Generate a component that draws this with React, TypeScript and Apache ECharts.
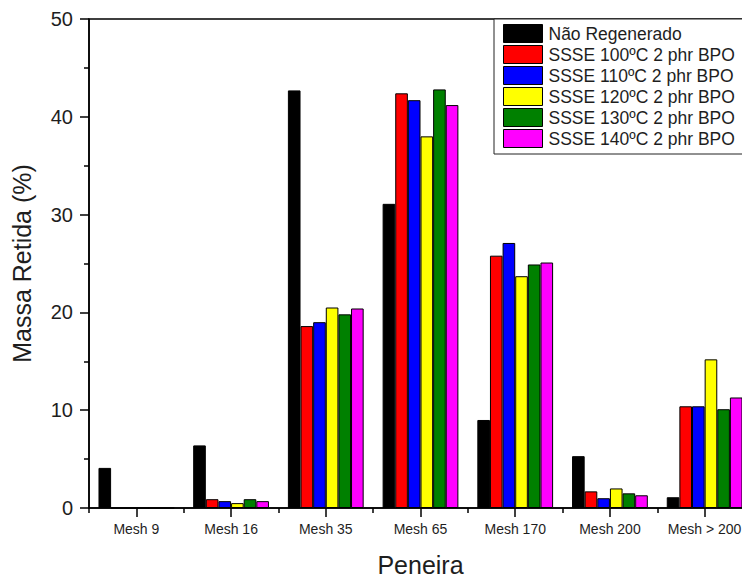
import React, { useEffect, useRef } from "react";
import * as echarts from "echarts";

const categories = ["Mesh 9", "Mesh 16", "Mesh 35", "Mesh 65", "Mesh 170", "Mesh 200", "Mesh > 200"];
const seriesNames = [
  "Não Regenerado",
  "SSSE 100ºC 2 phr BPO",
  "SSSE 110ºC 2 phr BPO",
  "SSSE 120ºC 2 phr BPO",
  "SSSE 130ºC 2 phr BPO",
  "SSSE 140ºC 2 phr BPO",
];
const naoRegenerado = [4.1, 6.4, 42.7, 31.1, 9.0, 5.3, 1.1];
const ssse100 = [0, 0.9, 18.6, 42.4, 25.8, 1.7, 10.4];
const ssse110 = [0, 0.7, 19.0, 41.7, 27.1, 1.0, 10.4];
const ssse120 = [0, 0.5, 20.5, 38.0, 23.7, 2.0, 15.2];
const ssse130 = [0, 0.9, 19.8, 42.8, 24.9, 1.5, 10.1];
const ssse140 = [0, 0.7, 20.4, 41.2, 25.1, 1.3, 11.3];
const seriesValues = [naoRegenerado, ssse100, ssse110, ssse120, ssse130, ssse140];
const colors = ["#000000", "#ff0000", "#0000ff", "#ffff00", "#008000", "#ff00ff"];
const yTicks = [0, 10, 20, 30, 40, 50];

const FONT = "'Liberation Sans', Arial, Helvetica, sans-serif";
const TXT = "#1e1e1e";

export default function App() {
  const ref = useRef<HTMLDivElement>(null);
  useEffect(() => {
    if (!ref.current) return;
    const chart = echarts.init(ref.current, undefined, { renderer: "svg" });
    chart.setOption({
      animation: false,
      backgroundColor: "#ffffff",
      textStyle: { fontFamily: FONT },
      grid: {
        left: 89,
        top: 19,
        width: 663,
        bottom: 69,
        containLabel: false,
        outerBoundsMode: "none",
        show: true,
        borderColor: "#000",
        borderWidth: 1.5,
        backgroundColor: "transparent",
      },
      legend: {
        orient: "vertical",
        left: 494,
        top: 19,
        padding: [5, 14, 6, 9],
        backgroundColor: "#fff",
        borderColor: "#222",
        borderWidth: 1,
        itemWidth: 39,
        itemHeight: 18,
        itemGap: 2,
        icon: "rect",
        itemStyle: { borderColor: "#000", borderWidth: 1 },
        textStyle: { fontSize: 17.5, color: TXT, fontFamily: FONT, lineHeight: 18, padding: [0, 0, 0, 1] },
        data: seriesNames,
      },
      xAxis: [
        {
          type: "category",
          data: categories,
          position: "bottom",
          axisLine: { show: true, lineStyle: { color: "#000", width: 1.5 } },
          axisTick: { show: true, alignWithLabel: true, interval: 0, length: 9, lineStyle: { color: "#000", width: 1.5 } },
          axisLabel: { fontSize: 14, color: TXT, margin: 14, fontFamily: FONT, interval: 0 },
          name: "Peneira",
          nameLocation: "middle",
          nameGap: 44,
          nameTextStyle: { fontSize: 25, color: TXT, fontFamily: FONT },
        },
        {
          type: "category",
          data: categories,
          position: "bottom",
          axisLine: { show: false },
          axisTick: { show: true, alignWithLabel: false, interval: 0, length: 5, lineStyle: { color: "#000", width: 1.5 } },
          axisLabel: { show: false },
        },
      ],
      yAxis: {
        type: "value",
        min: 0,
        max: 50,
        interval: 10,
        axisLine: { show: true, lineStyle: { color: "#000", width: 1.5 } },
        axisTick: { show: true, length: 9, lineStyle: { color: "#000", width: 1.5 } },
        minorTick: { show: true, splitNumber: 2, length: 5, lineStyle: { color: "#000", width: 1.5 } },
        splitLine: { show: false },
        axisLabel: {
          fontSize: 20,
          color: TXT,
          margin: 16,
          fontFamily: FONT,
          formatter: (v: number) => (yTicks.includes(v) ? String(v) : ""),
        },
        name: "Massa Retida (%)",
        nameLocation: "middle",
        nameGap: 55,
        nameTextStyle: { fontSize: 25, color: TXT, fontFamily: FONT },
      },
      series: seriesNames.map((name, i) => ({
        name,
        type: "bar",
        xAxisIndex: 0,
        data: seriesValues[i],
        barGap: "0%",
        barCategoryGap: "20%",
        itemStyle: { color: colors[i], borderColor: "#000", borderWidth: 1 },
      })),
    });
    return () => chart.dispose();
  }, []);
  return (
    <div
      ref={ref}
      style={{ position: "fixed", left: 0, top: 0, width: 742, height: 577 }}
    />
  );
}
